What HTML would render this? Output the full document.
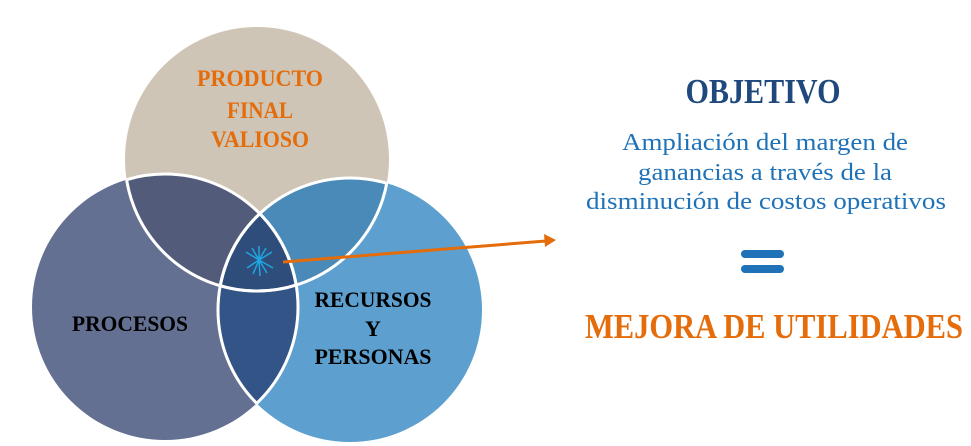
<!DOCTYPE html>
<html><head><meta charset="utf-8"><style>
html,body{margin:0;padding:0;background:#fff;width:971px;height:446px;overflow:hidden}
svg text{font-family:"Liberation Serif",serif;}
</style></head><body>
<svg width="971" height="446" viewBox="0 0 971 446" xmlns="http://www.w3.org/2000/svg">
<defs>
<clipPath id="cT"><circle cx="257" cy="159" r="132"/></clipPath>
<clipPath id="cL"><circle cx="165" cy="307" r="133"/></clipPath>
<clipPath id="cR"><circle cx="350" cy="310" r="132"/></clipPath>
</defs>
<circle cx="257" cy="159" r="132" fill="#cfc5b6"/>
<circle cx="165" cy="307" r="133" fill="#647092"/>
<circle cx="350" cy="310" r="132" fill="#5da0cf"/>
<g clip-path="url(#cT)"><circle cx="165" cy="307" r="133" fill="#535b7a"/><circle cx="350" cy="310" r="132" fill="#4a8ab8"/></g>
<g clip-path="url(#cL)"><circle cx="350" cy="310" r="132" fill="#335486"/></g>
<g clip-path="url(#cT)"><g clip-path="url(#cL)"><circle cx="350" cy="310" r="132" fill="#2e4d7a"/></g></g>
<g fill="none" stroke="#fff" stroke-width="3">
<circle cx="257" cy="159" r="132" clip-path="url(#cL)"/>
<circle cx="257" cy="159" r="132" clip-path="url(#cR)"/>
<circle cx="165" cy="307" r="133" clip-path="url(#cR)"/>
<circle cx="165" cy="307" r="133" clip-path="url(#cT)"/>
<circle cx="350" cy="310" r="132" clip-path="url(#cT)"/>
<circle cx="350" cy="310" r="132" clip-path="url(#cL)"/>
</g>
<g stroke="#1fa6e0" stroke-width="1.5" fill="none">
<path d="M259 260 L246 252 M259 260 L252 248 M259 260 L259 246 M259 260 L266 248 M259 260 L272 252 M259 260 L247 268 M259 260 L253 274 M259 260 L260 276 M259 260 L267 273 M259 260 L273 268"/>
</g>
<g font-weight="bold" fill="#e46c0a" font-size="23" text-anchor="middle">
<text x="260" y="86" textLength="126" lengthAdjust="spacingAndGlyphs">PRODUCTO</text>
<text x="260" y="118" textLength="66" lengthAdjust="spacingAndGlyphs">FINAL</text>
<text x="260" y="147" textLength="98" lengthAdjust="spacingAndGlyphs">VALIOSO</text>
</g>
<g font-weight="bold" fill="#000" font-size="22" text-anchor="middle">
<text x="130" y="331" textLength="116" lengthAdjust="spacingAndGlyphs">PROCESOS</text>
<text x="373" y="307" textLength="117" lengthAdjust="spacingAndGlyphs">RECURSOS</text>
<text x="373" y="336">Y</text>
<text x="373" y="364" textLength="117" lengthAdjust="spacingAndGlyphs">PERSONAS</text>
</g>
<line x1="283" y1="262" x2="546" y2="241" stroke="#e46c0a" stroke-width="3"/>
<path d="M556 240 L544 234 L545 247 Z" fill="#e46c0a"/>
<text x="763" y="103" font-size="35" font-weight="bold" fill="#1f497d" text-anchor="middle" textLength="155" lengthAdjust="spacingAndGlyphs">OBJETIVO</text>
<g font-size="24" fill="#1f72b8" text-anchor="middle">
<text x="765" y="150" textLength="286" lengthAdjust="spacingAndGlyphs">Ampliación del margen de</text>
<text x="765" y="180" textLength="254" lengthAdjust="spacingAndGlyphs">ganancias a través de la</text>
<text x="766" y="209" textLength="360" lengthAdjust="spacingAndGlyphs">disminución de costos operativos</text>
</g>
<rect x="741" y="250" width="43" height="8" rx="4" fill="#1f72b8"/>
<rect x="741" y="265" width="43" height="8" rx="4" fill="#1f72b8"/>
<text x="774" y="338" font-size="35" font-weight="bold" fill="#e46c0a" text-anchor="middle" textLength="378" lengthAdjust="spacingAndGlyphs">MEJORA DE UTILIDADES</text>
</svg>
</body></html>
